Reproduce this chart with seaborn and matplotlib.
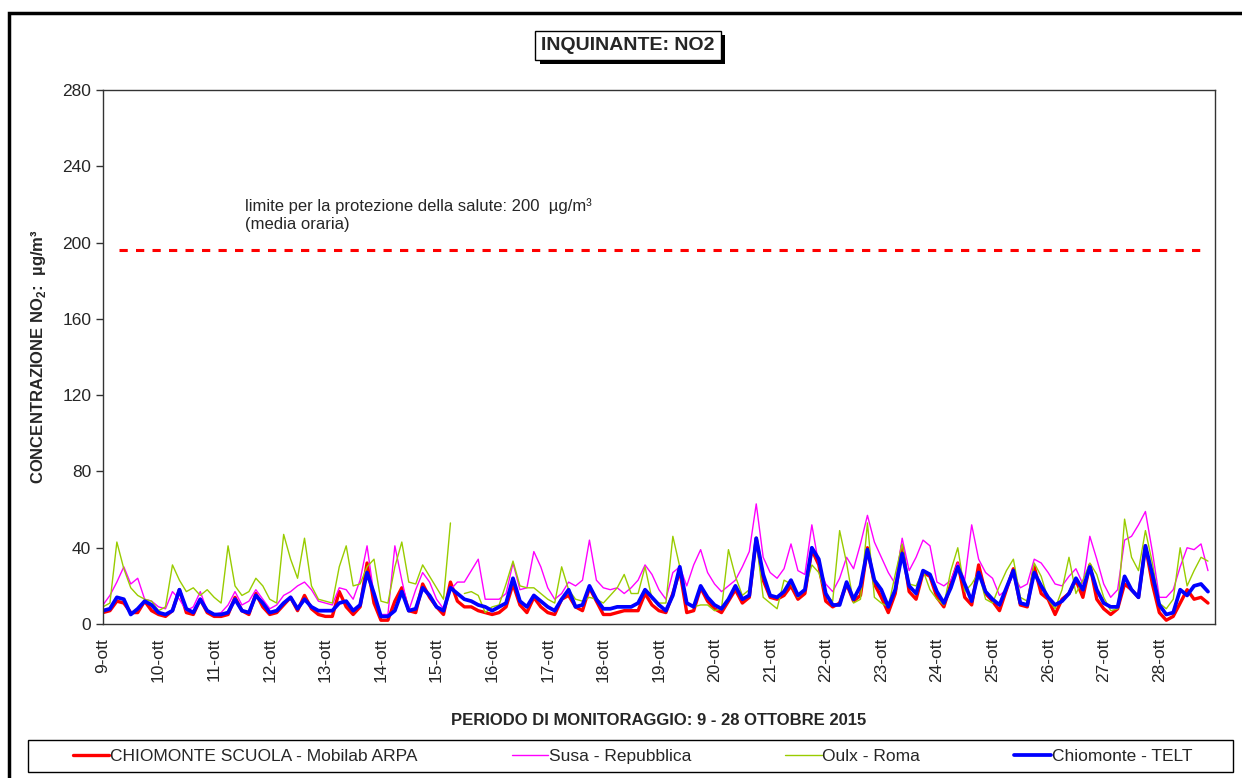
# Grafico NO2 - concentrazioni orarie (ogni 3 ore)
import numpy as np
import pandas as pd
import matplotlib
matplotlib.use("Agg")
import matplotlib.pyplot as plt
import matplotlib.patheffects as pe
import seaborn as sns
from matplotlib.patches import Rectangle

# una riga per giorno (9-28 ottobre), ore 0,3,6,9,12,15,18,21
chiomonte_arpa = [
    6, 7, 12, 11, 6, 6, 12, 7,
    5, 4, 7, 18, 6, 5, 13, 6,
    4, 4, 5, 14, 7, 5, 16, 9,
    5, 6, 10, 14, 7, 15, 8, 5,
    4, 4, 17, 9, 5, 9, 32, 11,
    2, 2, 12, 19, 7, 6, 21, 14,
    9, 5, 22, 12, 9, 9, 7, 6,
    5, 6, 9, 21, 10, 6, 14, 9,
    6, 5, 13, 15, 9, 7, 19, 12,
    5, 5, 6, 7, 7, 7, 16, 10,
    7, 6, 16, 28, 6, 7, 19, 12,
    8, 6, 12, 18, 11, 14, 45, 23,
    14, 13, 15, 20, 13, 16, 39, 31,
    12, 9, 11, 21, 12, 15, 40, 21,
    14, 6, 16, 41, 17, 13, 27, 25,
    14, 9, 21, 32, 14, 10, 31, 16,
    12, 7, 18, 29, 10, 9, 30, 16,
    13, 5, 13, 16, 23, 14, 31, 13,
    8, 5, 8, 21, 18, 14, 41, 21,
    6, 2, 4, 11, 18, 13, 14, 11,
]
susa = [
    10, 15, 22, 30, 21, 24, 13, 12,
    9, 8, 17, 13, 7, 9, 17, 7,
    5, 6, 10, 17, 10, 12, 18, 13,
    8, 10, 15, 17, 20, 22, 18, 12,
    11, 10, 19, 18, 13, 23, 41, 15,
    5, 5, 41, 23, 7, 18, 27, 22,
    13, 8, 18, 22, 22, 28, 34, 13,
    13, 13, 16, 32, 18, 19, 38, 30,
    19, 13, 16, 22, 20, 23, 44, 23,
    19, 18, 19, 16, 19, 23, 31, 26,
    18, 13, 27, 30, 20, 31, 39, 27,
    21, 17, 20, 23, 30, 38, 63, 35,
    27, 24, 29, 42, 28, 26, 52, 31,
    21, 17, 24, 35, 29, 42, 57, 43,
    35, 27, 21, 45, 28, 35, 44, 41,
    22, 20, 23, 32, 23, 52, 34, 27,
    24, 15, 18, 26, 19, 21, 34, 32,
    27, 21, 20, 25, 29, 21, 46, 34,
    21, 14, 18, 44, 46, 52, 59, 38,
    14, 14, 18, 30, 40, 39, 42, 28,
]
oulx = [
    9, 11, 43, 29, 19, 15, 13, 12,
    7, 9, 31, 23, 17, 19, 15, 18,
    14, 11, 41, 20, 15, 17, 24, 20,
    13, 11, 47, 34, 24, 45, 20, 13,
    12, 11, 30, 41, 20, 21, 30, 34,
    12, 11, 30, 43, 22, 21, 31, 25,
    19, 13, 53, np.nan, 16, 17, 15, 6,
    9, 10, 21, 33, 20, 19, 19, 16,
    13, 11, 30, 18, 13, 12, 14, 13,
    11, 15, 19, 26, 16, 16, 30, 13,
    11, 11, 46, 30, 11, 9, 10, 10,
    7, 8, 39, 25, 15, 18, 44, 14,
    11, 8, 23, 21, 14, 18, 31, 27,
    15, 12, 49, 32, 11, 13, 53, 14,
    11, 9, 26, 42, 21, 20, 28, 18,
    13, 10, 28, 40, 17, 21, 27, 13,
    11, 20, 28, 34, 14, 12, 32, 25,
    13, 8, 18, 35, 16, 23, 32, 26,
    14, 7, 8, 55, 35, 28, 49, 32,
    11, 8, 13, 40, 20, 28, 35, 33,
]
chiomonte_telt = [
    7, 8, 14, 13, 5, 8, 12, 10,
    6, 5, 7, 18, 8, 6, 13, 7,
    5, 5, 6, 13, 7, 6, 15, 11,
    6, 7, 11, 14, 8, 13, 9, 7,
    7, 7, 11, 12, 7, 10, 27, 16,
    4, 4, 7, 17, 7, 8, 19, 15,
    9, 7, 19, 16, 13, 12, 10, 9,
    7, 9, 11, 24, 12, 9, 15, 12,
    9, 7, 13, 18, 9, 10, 20, 13,
    8, 8, 9, 9, 9, 11, 18, 14,
    10, 7, 15, 30, 11, 9, 20, 14,
    10, 8, 13, 20, 13, 15, 45, 26,
    15, 14, 17, 23, 15, 18, 40, 34,
    16, 10, 10, 22, 13, 20, 39, 23,
    18, 9, 18, 37, 20, 16, 28, 26,
    17, 11, 19, 30, 21, 12, 27, 17,
    13, 10, 19, 28, 11, 10, 27, 20,
    14, 10, 12, 16, 24, 18, 30, 18,
    11, 9, 9, 25, 18, 14, 41, 26,
    10, 5, 6, 18, 15, 20, 21, 17,
]

tempo = pd.date_range("2015-10-09", periods=len(chiomonte_telt), freq="3h")
giorni = pd.date_range("2015-10-09", periods=20, freq="D")
etichette_giorni = [f"{g.day}-ott" for g in giorni]

# linea limite (tracciata a ~195 nel grafico originale)
limite_valore = 196
limite_inizio = pd.Timestamp("2015-10-09 07:00")
limite_fine = pd.Timestamp("2015-10-28 17:30")

serie = [
    ("CHIOMONTE SCUOLA - Mobilab ARPA", chiomonte_arpa, "#FF0000", 2.4),
    ("Susa - Repubblica", susa, "#FF00FF", 1.0),
    ("Oulx - Roma", oulx, "#99CC00", 1.0),
    ("Chiomonte - TELT", chiomonte_telt, "#0000FF", 2.7),
]

sns.set_style("white")
plt.rcParams["font.family"] = ["Liberation Sans", "DejaVu Sans"]
plt.rcParams["mathtext.fontset"] = "custom"
plt.rcParams["mathtext.bf"] = "Liberation Sans:bold"
plt.rcParams["mathtext.rm"] = "Liberation Sans"

fig = plt.figure(figsize=(12.42, 7.78), dpi=100)
ax = fig.add_axes([0.0829, 0.1979, 0.8953, 0.6864])

for nome, valori, colore, spessore in serie:
    df = pd.DataFrame({"tempo": tempo, "valore": valori})
    # i dati mancanti spezzano la linea
    df["tratto"] = df["valore"].isna().cumsum()
    sns.lineplot(data=df.dropna(), x="tempo", y="valore", units="tratto", estimator=None,
                 ax=ax, color=colore, linewidth=spessore, label=nome, solid_joinstyle="round")

ax.hlines(limite_valore, limite_inizio, limite_fine, colors="#FF0000",
          linewidth=2.2, linestyles=(0, (2.7, 2.7)))
ax.text(0.128, 0.797, "limite per la protezione della salute: 200  µg/m³\n(media oraria)",
        transform=ax.transAxes, va="top", ha="left", fontsize=12, linespacing=1.2)

ax.set_xlim(giorni[0], giorni[-1] + pd.Timedelta(days=1))
ax.set_ylim(0, 280)
ax.set_yticks(range(0, 281, 40))
ax.set_xticks(giorni)
ax.set_xticklabels(etichette_giorni, rotation=90)
ax.tick_params(axis="y", labelsize=12.5, length=5, width=1, color="#333333", direction="out", left=True)
ax.tick_params(axis="x", labelsize=12.5, length=0, pad=10)
for s in ax.spines.values():
    s.set_color("#333333")
    s.set_linewidth(1.0)

ax.set_xlabel("PERIODO DI MONITORAGGIO: 9 - 28 OTTOBRE 2015", fontsize=12, fontweight="bold")
ax.xaxis.set_label_coords(0.5, -0.167)
ax.set_ylabel("CONCENTRAZIONE NO$_\\mathbf{2}$:  µg/m³", fontsize=12, fontweight="bold")
ax.yaxis.set_label_coords(-0.049, 0.5)

# legenda in basso, cornice a tutta larghezza (una voce per serie)
handles, labels = ax.get_legend_handles_labels()
voci = dict(zip(labels, handles))
ax.get_legend().remove()
leg = fig.legend(list(voci.values()), list(voci.keys()), loc="center left", ncol=4, mode="expand",
                 bbox_to_anchor=(73 / 1242, 1 - 756 / 778, 1119 / 1242, 0),
                 fontsize=12.5, frameon=False, handlelength=2.1, handletextpad=0.05,
                 borderpad=0, borderaxespad=0)
fig.add_artist(Rectangle((28 / 1242, 1 - 772 / 778), 1205 / 1242, 32 / 778,
                         transform=fig.transFigure, fill=False, linewidth=1.0, edgecolor="black"))

# titolo con ombra
titolo = fig.text(628 / 1242, 1 - 45.5 / 778, "INQUINANTE: NO2", ha="center", va="center",
                  fontsize=14, fontweight="bold",
                  bbox=dict(boxstyle="square,pad=0.3", facecolor="white", edgecolor="black", linewidth=1))
titolo.get_bbox_patch().set_path_effects([
    pe.SimplePatchShadow(offset=(3, -3), shadow_rgbFace="black", alpha=1.0),
    pe.Normal(),
])

# cornice esterna
fig.add_artist(Rectangle((9 / 1242, -0.05), 1.2, 1 - 13 / 778 + 0.05, transform=fig.transFigure,
                         fill=False, linewidth=2.5, edgecolor="black"))

fig.savefig("out.png", dpi=100, facecolor="white")
